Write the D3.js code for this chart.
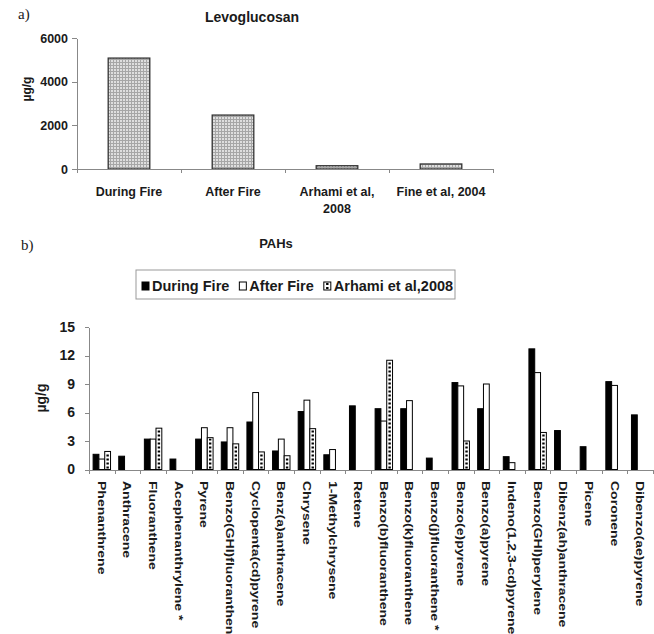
<!DOCTYPE html>
<html>
<head>
<meta charset="utf-8">
<script src="https://cdn.jsdelivr.net/npm/d3@7"></script>
<style>
  body { margin: 0; background: #fff; }
  svg { display: block; }
  text { fill: #1a1a1a; }
</style>
</head>
<body>
<script>
// a) levoglucosan
const levoCats = ["During Fire", "After Fire", "Arhami et al,\n2008", "Fine et al, 2004"];
const levoValues = [5080, 2470, 150, 230];
const levoTicks = [0, 2000, 4000, 6000];

// b) PAHs
const pahNames = ["Phenanthrene", "Anthracene", "Fluoranthene", "Acephenanthrylene *", "Pyrene",
  "Benzo(GHI)fluoranthene", "Cyclopenta(cd)pyrene", "Benz(a)anthracene", "Chrysene", "1-Methylchrysene",
  "Retene", "Benzo(b)fluoranthene", "Benzo(k)fluoranthene", "Benzo(j)fluoranthene *", "Benzo(e)pyrene",
  "Benzo(a)pyrene", "Indeno(1,2,3-cd)pyrene", "Benzo(GHI)perylene", "Dibenz(ah)anthracene", "Picene",
  "Coronene", "Dibenzo(ae)pyrene"];
const duringFire = [1.6, 1.4, 3.2, 1.1, 3.2, 2.9, 5.0, 1.95, 6.1, 1.55, 6.7, 6.4, 6.4, 1.2, 9.15, 6.4, 1.35, 12.7, 4.1, 2.4, 9.25, 5.75];
const afterFire  = [1.1, null, 3.2, null, 4.4, 4.4, 8.1, 3.2, 7.3, 2.1, null, 5.1, 7.25, null, 8.8, 9.0, 0.72, 10.2, null, null, 8.85, null];
const arhami2008 = [1.9, null, 4.35, null, 3.35, 2.7, 1.85, 1.45, 4.3, null, null, 11.5, null, null, 3.0, null, null, 3.9, null, null, null, null];
const seriesNames = ["During Fire", "After Fire", "Arhami et al,2008"];
const pahTicks = [0, 3, 6, 9, 12, 15];

const width = 654, height = 634;
const axisColor = "#888";

const svg = d3.select("body").append("svg")
  .attr("width", width)
  .attr("height", height)
  .style("font-family", "'Liberation Sans', Arial, sans-serif")
  .style("font-weight", "bold");

const defs = svg.append("defs");
const pat = defs.append("pattern")
  .attr("id", "levo")
  .attr("patternUnits", "userSpaceOnUse")
  .attr("width", 3).attr("height", 3);
pat.append("rect").attr("width", 3).attr("height", 3).attr("fill", "#a6a6a6");
pat.append("rect").attr("width", 2).attr("height", 2).attr("fill", "#dedede");

function styleAxis(g) {
  g.attr("font-size", null).attr("font-family", null);
  g.selectAll("path, line").attr("stroke", axisColor).attr("shape-rendering", "crispEdges");
}

//-------------------------- a) Levoglucosan
const xTop = d3.scaleBand().domain(levoCats).range([77, 493]).paddingInner(0.6).paddingOuter(0.3);
const xTopEdge = d3.scaleLinear().domain([0, levoCats.length]).range([77, 493]);
const yTop = d3.scaleLinear().domain([0, 6000]).range([169, 38]);

svg.append("text").attr("x", 18).attr("y", 19)
  .style("font-family", "'Liberation Serif', 'Times New Roman', serif")
  .style("font-weight", "normal").style("font-size", "15px").text("a)");

svg.append("text")
  .attr("x", 252).attr("y", 22)
  .attr("text-anchor", "middle").style("font-size", "14px").text("Levoglucosan");

svg.append("text")
  .attr("transform", "translate(31,89) rotate(-90)")
  .attr("text-anchor", "middle").style("font-size", "12px").text("µg/g");

svg.append("g")
  .selectAll("rect")
  .data(levoCats.map((c, i) => ({ c, v: levoValues[i] })))
  .join("rect")
    .attr("x", d => xTop(d.c))
    .attr("y", d => yTop(d.v))
    .attr("width", xTop.bandwidth())
    .attr("height", d => yTop(0) - yTop(d.v))
    .attr("fill", "url(#levo)")
    .attr("stroke", "#333")
    .attr("stroke-width", 1.3);

svg.append("g")
  .attr("transform", `translate(0,${yTop(0)})`)
  .call(d3.axisBottom(xTopEdge).tickValues(d3.range(levoCats.length + 1)).tickFormat("").tickSize(4).tickSizeOuter(0))
  .call(styleAxis);

const yAxTop = svg.append("g")
  .attr("transform", "translate(77,0)")
  .call(d3.axisLeft(yTop).tickValues(levoTicks).tickFormat(d3.format("d")).tickSize(5).tickPadding(4).tickSizeOuter(0))
  .call(styleAxis);
yAxTop.selectAll("text").style("font-size", "12.5px");

// x labels (may wrap)
levoCats.forEach(c => {
  const lines = c.split("\n");
  lines.forEach((ln, i) => {
    svg.append("text")
      .attr("x", xTop(c) + xTop.bandwidth() / 2)
      .attr("y", 196 + i * 17)
      .attr("text-anchor", "middle")
      .style("font-size", "12.5px")
      .text(ln);
  });
});

//-------------------------- b) PAHs
svg.append("text").attr("x", 21).attr("y", 250)
  .style("font-family", "'Liberation Serif', 'Times New Roman', serif")
  .style("font-weight", "normal").style("font-size", "15px").text("b)");

svg.append("text").attr("x", 276).attr("y", 248)
  .attr("text-anchor", "middle").style("font-size", "13px").text("PAHs");

// legend
const legend = svg.append("g");
legend.append("rect")
  .attr("x", 136).attr("y", 270).attr("width", 319).attr("height", 29)
  .attr("fill", "#fff").attr("stroke", "#999");

let lx = 142;
seriesNames.forEach((s, i) => {
  const sw = legend.append("g");
  sw.append("rect")
    .attr("x", lx).attr("y", 282).attr("width", 7).attr("height", 8)
    .attr("fill", i === 0 ? "#000" : "#fff")
    .attr("stroke", "#000").attr("stroke-width", 1);
  if (i === 2) {
    sw.append("line")
      .attr("x1", lx + 3.5).attr("x2", lx + 3.5).attr("y1", 283).attr("y2", 290)
      .attr("stroke", "#000").attr("stroke-width", 2.4).attr("stroke-dasharray", "2,2");
  }
  const t = legend.append("text")
    .attr("x", lx + 10).attr("y", 291)
    .style("font-size", "14.5px")
    .text(s);
  lx += 10 + t.node().getComputedTextLength() + 10;
});

const xB = d3.scaleBand().domain(pahNames).range([89, 653]).padding(0);
const step = xB.step();
const xBEdge = d3.scaleLinear().domain([0, pahNames.length]).range([89, 653]);
const xInner = d3.scaleBand().domain(seriesNames).range([0.16 * step, 0.84 * step]).padding(0);
const yB = d3.scaleLinear().domain([0, 15]).range([469.5, 327]);

svg.append("text")
  .attr("transform", "translate(46,398) rotate(-90)")
  .attr("text-anchor", "middle").style("font-size", "14px").text("µg/g");

const allSeries = [duringFire, afterFire, arhami2008];
const barData = [];
pahNames.forEach((n, j) => {
  allSeries.forEach((arr, i) => {
    if (arr[j] != null) barData.push({ n, s: seriesNames[i], i, v: arr[j] });
  });
});

const bars = svg.append("g");
bars.selectAll("rect")
  .data(barData)
  .join("rect")
    .attr("x", d => xB(d.n) + xInner(d.s))
    .attr("y", d => yB(d.v))
    .attr("width", xInner.bandwidth())
    .attr("height", d => yB(0) - yB(d.v))
    .attr("fill", d => d.i === 0 ? "#000" : "#fff")
    .attr("stroke", "#000")
    .attr("stroke-width", 1);

// dotted fill of the Arhami bars
bars.selectAll("line")
  .data(barData.filter(d => d.i === 2))
  .join("line")
    .attr("x1", d => xB(d.n) + xInner(d.s) + xInner.bandwidth() / 2)
    .attr("x2", d => xB(d.n) + xInner(d.s) + xInner.bandwidth() / 2)
    .attr("y1", yB(0) - 1)
    .attr("y2", d => yB(d.v) + 1)
    .attr("stroke", "#000")
    .attr("stroke-width", 2.4)
    .attr("stroke-dasharray", "2,2");

svg.append("g")
  .attr("transform", `translate(0,${yB(0)})`)
  .call(d3.axisBottom(xBEdge).tickValues(d3.range(pahNames.length + 1)).tickFormat("").tickSize(4).tickSizeOuter(0))
  .call(styleAxis);

const yAxB = svg.append("g")
  .attr("transform", "translate(89,0)")
  .call(d3.axisLeft(yB).tickValues(pahTicks).tickSize(4).tickPadding(10).tickSizeOuter(0))
  .call(styleAxis);
yAxB.selectAll("text").style("font-size", "14px");

// rotated category labels
svg.append("g")
  .selectAll("text")
  .data(pahNames)
  .join("text")
    .attr("transform", d => `translate(${xB(d) + step / 2},481) rotate(90) scale(1.22,1)`)
    .attr("dy", "0.35em")
    .attr("text-anchor", "start")
    .style("font-size", "11.5px")
    .text(d => d);
</script>
</body>
</html>
